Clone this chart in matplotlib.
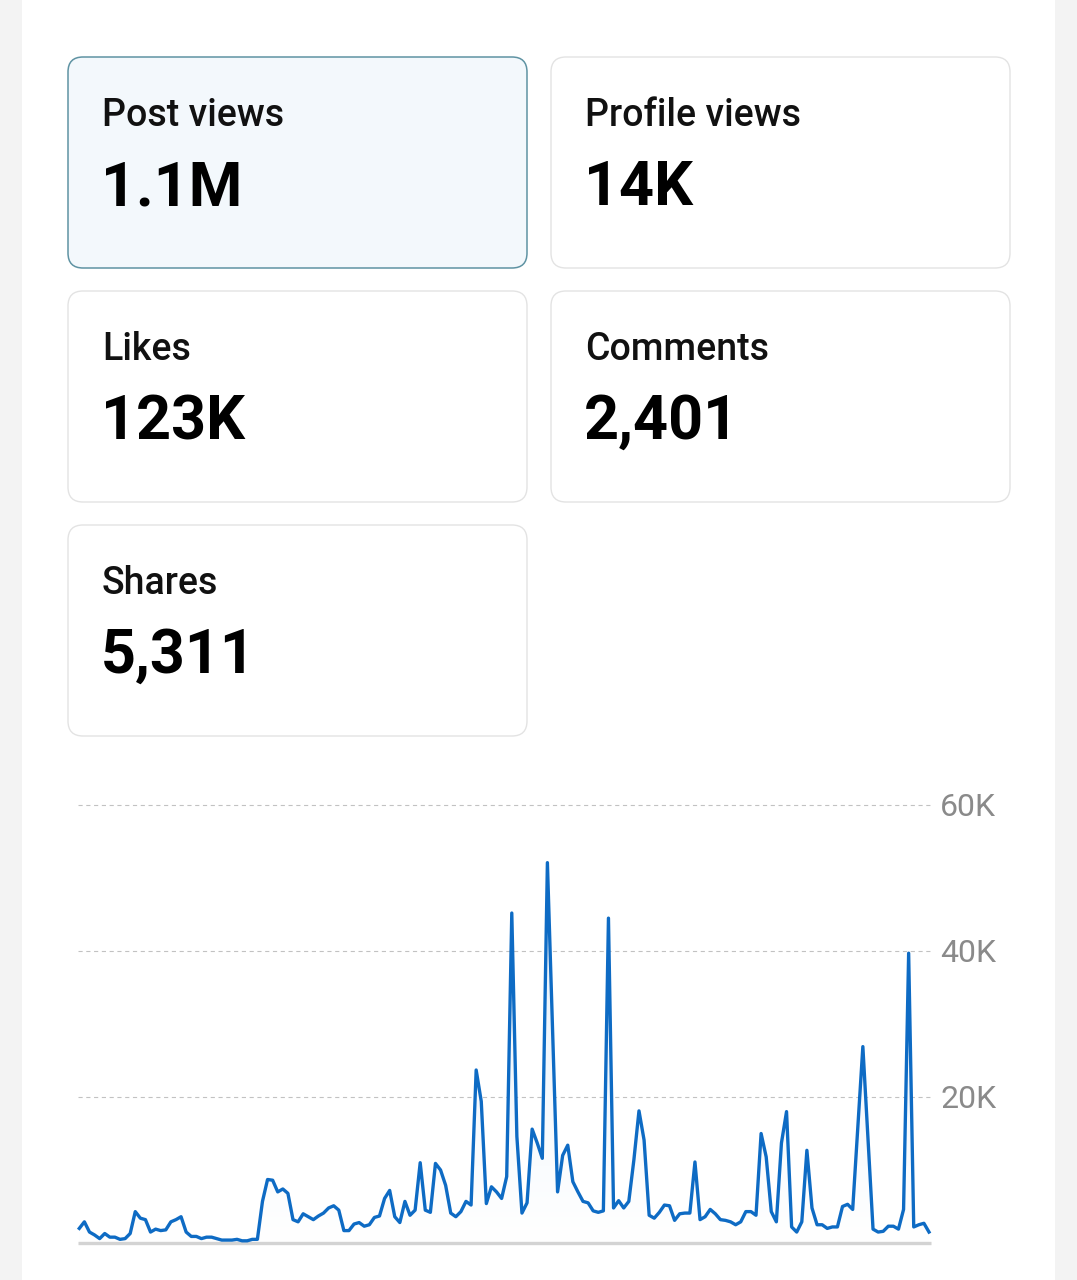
import matplotlib
matplotlib.use("Agg")
import matplotlib.pyplot as plt
from matplotlib.patches import FancyBboxPatch, Rectangle, PathPatch
from matplotlib.colors import LinearSegmentedColormap
import numpy as np

# ---------------- data ----------------
card_labels = ["Post views", "Profile views", "Likes", "Comments", "Shares"]
card_values = ["1.1M", "14K", "123K", "2,401", "5,311"]

# daily post views (thousands)
views_k = [
    2.0, 2.9, 1.5, 1.1, 0.6, 1.3, 0.8, 0.8, 0.5, 0.6,
    1.3, 4.3, 3.4, 3.2, 1.5, 1.9, 1.7, 1.8, 2.9, 3.2,
    3.6, 1.5, 0.9, 0.9, 0.6, 0.8, 0.8, 0.6, 0.4, 0.4,
    0.4, 0.5, 0.3, 0.3, 0.5, 0.5, 5.7, 8.7, 8.6, 7.0,
    7.4, 6.8, 3.2, 2.9, 4.0, 3.6, 3.2, 3.7, 4.1, 4.8,
    5.1, 4.5, 1.7, 1.7, 2.6, 2.8, 2.3, 2.5, 3.5, 3.7,
    6.1, 7.2, 3.6, 2.8, 5.7, 3.8, 4.5, 11.0, 4.5, 4.2,
    10.9, 10.0, 7.9, 4.1, 3.6, 4.3, 5.7, 5.2, 23.7, 19.4,
    5.4, 7.7, 7.0, 6.1, 9.1, 45.2, 14.6, 4.1, 5.5, 15.6,
    13.7, 11.6, 52.1, 29.5, 7.0, 12.0, 13.4, 8.4, 7.0, 5.7,
    5.5, 4.4, 4.2, 4.4, 44.5, 4.8, 5.8, 4.8, 5.7, 11.4,
    18.1, 14.1, 3.8, 3.4, 4.2, 5.2, 5.1, 3.1, 4.0, 4.1,
    4.1, 11.1, 3.2, 3.6, 4.6, 4.0, 3.2, 3.1, 2.9, 2.5,
    2.9, 4.3, 4.3, 3.8, 15.0, 11.8, 4.3, 2.9, 13.7, 18.0,
    2.2, 1.5, 2.9, 12.7, 4.8, 2.5, 2.5, 2.0, 2.2, 2.2,
    5.0, 5.3, 4.6, 15.8, 26.9, 14.4, 1.9, 1.5, 1.6, 2.3,
    2.3, 1.9, 4.6, 39.7, 2.2, 2.5, 2.7, 1.5,
]
y_ticks = [20000, 40000, 60000]
y_tick_labels = ["20K", "40K", "60K"]

# ---------------- figure ----------------
W, H = 1077, 1280
DPI = 100
plt.rcParams["font.family"] = ["Roboto", "DejaVu Sans"]
plt.rcParams["lines.scale_dashes"] = False
fig = plt.figure(figsize=(W / DPI, H / DPI), dpi=DPI)
fig.patch.set_facecolor("#F3F3F3")

# canvas axes in pixel coordinates (y downwards)
bg = fig.add_axes([0, 0, 1, 1])
bg.set_xlim(0, W)
bg.set_ylim(H, 0)
bg.axis("off")
bg.add_patch(Rectangle((22, 0), 1055 - 22, H, facecolor="white", edgecolor="none", zorder=0))

card_w, card_h = 459, 211
col_x = [68, 551]
row_y = [57, 291, 525]
for i, (lab, val) in enumerate(zip(card_labels, card_values)):
    cx = col_x[i % 2]
    cy = row_y[i // 2]
    if i == 0:
        fc, ec, lw = "#F3F8FC", "#5F93A3", 1.1
    else:
        fc, ec, lw = "white", "#E3E3E3", 1.0
    bg.add_patch(FancyBboxPatch((cx, cy), card_w, card_h,
                                boxstyle="round,pad=0,rounding_size=15",
                                facecolor=fc, edgecolor=ec, linewidth=lw, zorder=1))
    bg.text(cx + 34, cy + 69.5, lab, fontsize=27, fontweight="medium", color="#111111",
            ha="left", va="baseline", zorder=2)
    bg.text(cx + 33, cy + 148, val, fontsize=44, fontweight="bold", color="#000000",
            ha="left", va="baseline", zorder=2)

# ---------------- chart ----------------
left_px, right_px = 79.3, 929.0
bottom_px, top_px = 1243, 805
ax = fig.add_axes([left_px / W, (H - bottom_px) / H,
                   (right_px - left_px) / W, (bottom_px - top_px) / H])
ax.set_facecolor("none")
x = np.arange(len(views_k))
y = np.array(views_k) * 1000
ax.set_xlim(0, len(views_k) - 1)
ax.set_ylim(0, 60000)
for s in ax.spines.values():
    s.set_visible(False)
ax.set_xticks([])
ax.set_yticks(y_ticks)
ax.set_yticklabels(y_tick_labels)
ax.yaxis.tick_right()
ax.tick_params(axis="y", length=0, pad=8, labelsize=23, labelcolor="#8A8A8A")

for t in y_ticks:
    ax.plot([-0.3, len(views_k) - 1 + 0.3], [t, t], color="#C2C2C2", lw=0.8,
            dashes=(3, 2.6), clip_on=False, zorder=1)

# gradient fill under the line
grad = np.linspace(0, 1, 256).reshape(-1, 1)
cmap = LinearSegmentedColormap.from_list("g", ["#FFFFFF", "#E6F0FA"])
im = ax.imshow(grad, extent=[0, len(views_k) - 1, 0, max(y)], origin="lower",
               aspect="auto", cmap=cmap, zorder=2)
poly = ax.fill_between(x, 0, y, color="none")
pp = PathPatch(poly.get_paths()[0], transform=ax.transData, facecolor="none", edgecolor="none")
ax.add_patch(pp)
im.set_clip_path(pp)

ax.plot([-0.3, len(views_k) - 1 + 0.3], [0, 0], color="#D3D3D3", lw=2.4,
        clip_on=False, zorder=3, solid_capstyle="butt")
ax.plot(x, y, color="#0E6BC4", lw=2.4, zorder=4, clip_on=False,
        solid_joinstyle="round")

fig.savefig("out.png", dpi=DPI, facecolor=fig.get_facecolor())
